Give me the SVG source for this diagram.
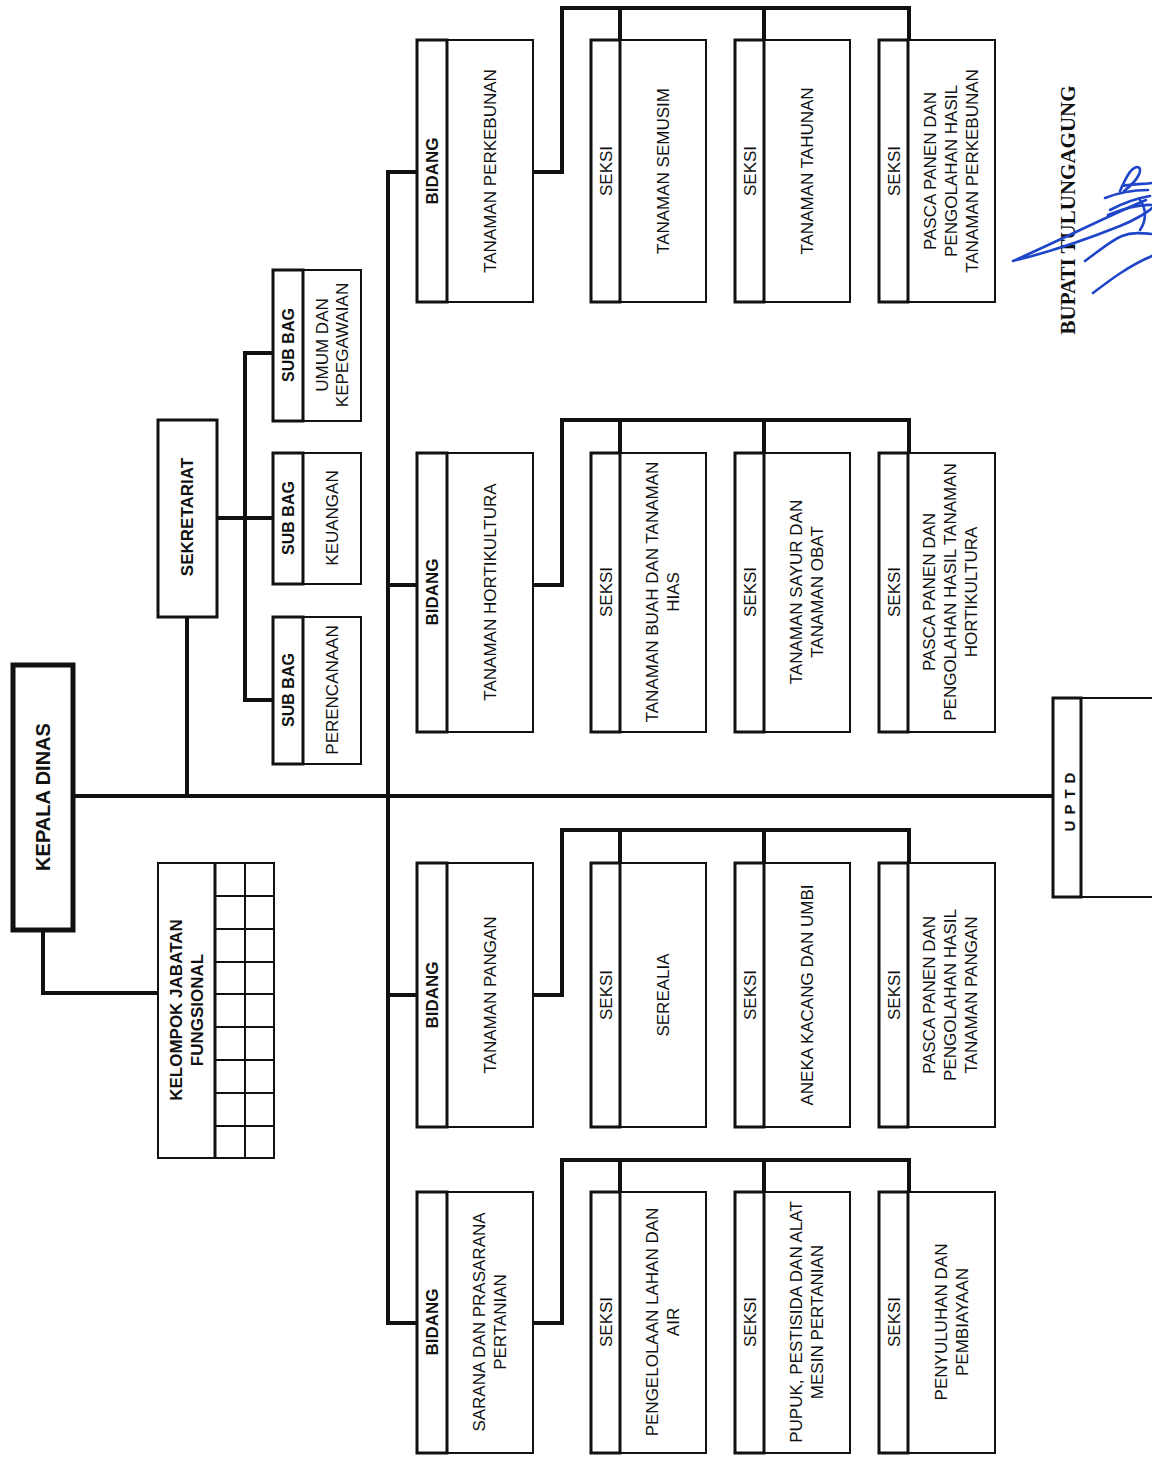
<svg xmlns="http://www.w3.org/2000/svg" width="1152" height="1462" viewBox="0 0 1152 1462">
<style>
.bx{fill:#fff;stroke:#111;stroke-width:2}
.hd{fill:none;stroke:#111;stroke-width:3}
.cn{fill:none;stroke:#111;stroke-width:4;stroke-linecap:square}
.t{font-family:"Liberation Sans",Arial,sans-serif;font-size:17px;fill:#111;text-anchor:middle}
.b{font-weight:bold}
.sig{fill:none;stroke:#1f45c8;stroke-width:2.6;stroke-linecap:round;stroke-linejoin:round}
</style>
<rect width="1152" height="1462" fill="#fff"/>

<g id="connectors">
<path class="cn" d="M73,796 H1053"/>
<path class="cn" d="M187,617 V796"/>
<path class="cn" d="M43,930 V993 H158"/>
<path class="cn" d="M217,518 H273 M245,353 V700 M245,353 H273 M245,700 H273"/>
<path class="cn" d="M388,172 V1323 M388,172 H417 M388,585 H417 M388,995 H417 M388,1323 H417"/>
<path class="cn" d="M533,172 H562 V8 H909 V40 M620,8 V40 M764,8 V40"/>
<path class="cn" d="M533,585 H562 V420 H909 V453 M620,420 V453 M764,420 V453"/>
<path class="cn" d="M533,995 H562 V830 H909 V863 M620,830 V863 M764,830 V863"/>
<path class="cn" d="M533,1323 H562 V1160 H909 V1192 M620,1160 V1192 M764,1160 V1192"/>
</g>

<g id="kepala-dinas">
<rect x="13" y="665" width="60" height="265" fill="#fff" stroke="#111" stroke-width="5"/>
<text class="t b" style="font-size:20px" transform="translate(43,797) rotate(-90)" y="7">KEPALA DINAS</text>
</g>

<g id="kelompok-jabatan-fungsional">
<rect class="bx" x="158" y="863" width="116" height="295"/>
<path fill="none" stroke="#111" stroke-width="3" d="M215,863 V1158"/>
<path fill="none" stroke="#111" stroke-width="2" d="M245,863 V1158 M215,896 H274 M215,929 H274 M215,962 H274 M215,994 H274 M215,1027 H274 M215,1060 H274 M215,1093 H274 M215,1126 H274"/>
<text class="t b" transform="translate(186,1010) rotate(-90)"><tspan x="0" y="-4.5">KELOMPOK JABATAN</tspan><tspan x="0" y="16.5">FUNGSIONAL</tspan></text>
</g>

<g id="sekretariat">
<rect x="158" y="420" width="59" height="197" fill="#fff" stroke="#111" stroke-width="3"/>
<text class="t b" transform="translate(187,517) rotate(-90)" y="6">SEKRETARIAT</text>
</g>

<g id="subbag-umum">
<rect class="bx" x="273" y="270" width="88" height="151"/>
<rect class="hd" x="273" y="270" width="30" height="151"/>
<text class="t b" style="font-size:16px" transform="translate(288,345) rotate(-90)" y="6">SUB BAG</text>
<text class="t" transform="translate(332,345) rotate(-90)"><tspan x="0" y="-4">UMUM DAN</tspan><tspan x="0" y="16">KEPEGAWAIAN</tspan></text>
</g>
<g id="subbag-keuangan">
<rect class="bx" x="273" y="453" width="88" height="131"/>
<rect class="hd" x="273" y="453" width="30" height="131"/>
<text class="t b" style="font-size:16px" transform="translate(288,518) rotate(-90)" y="6">SUB BAG</text>
<text class="t" transform="translate(332,518) rotate(-90)" y="6">KEUANGAN</text>
</g>
<g id="subbag-perencanaan">
<rect class="bx" x="273" y="617" width="88" height="147"/>
<rect class="hd" x="273" y="617" width="30" height="147"/>
<text class="t b" style="font-size:16px" transform="translate(288,690) rotate(-90)" y="6">SUB BAG</text>
<text class="t" transform="translate(332,690) rotate(-90)" y="6">PERENCANAAN</text>
</g>

<!-- Row 1: Perkebunan -->
<g id="bidang-perkebunan">
<rect class="bx" x="417" y="40" width="116" height="262"/>
<rect class="hd" x="417" y="40" width="30" height="262"/>
<text class="t b" transform="translate(432,171) rotate(-90)" y="6">BIDANG</text>
<text class="t" transform="translate(490,171) rotate(-90)" y="6">TANAMAN PERKEBUNAN</text>
</g>
<g id="seksi-semusim">
<rect class="bx" x="591" y="40" width="115" height="262"/>
<rect class="hd" x="591" y="40" width="29" height="262"/>
<text class="t" transform="translate(605.5,171) rotate(-90)" y="6">SEKSI</text>
<text class="t" transform="translate(663,171) rotate(-90)" y="6">TANAMAN SEMUSIM</text>
</g>
<g id="seksi-tahunan">
<rect class="bx" x="735" y="40" width="115" height="262"/>
<rect class="hd" x="735" y="40" width="29" height="262"/>
<text class="t" transform="translate(749.5,171) rotate(-90)" y="6">SEKSI</text>
<text class="t" transform="translate(807,171) rotate(-90)" y="6">TANAMAN TAHUNAN</text>
</g>
<g id="seksi-pasca-perkebunan">
<rect class="bx" x="879" y="40" width="116" height="262"/>
<rect class="hd" x="879" y="40" width="29" height="262"/>
<text class="t" transform="translate(893.5,171) rotate(-90)" y="6">SEKSI</text>
<text class="t" transform="translate(951,171) rotate(-90)"><tspan x="0" y="-15">PASCA PANEN DAN</tspan><tspan x="0" y="6">PENGOLAHAN HASIL</tspan><tspan x="0" y="27">TANAMAN PERKEBUNAN</tspan></text>
</g>

<!-- Row 2: Hortikultura -->
<g id="bidang-hortikultura">
<rect class="bx" x="417" y="453" width="116" height="279"/>
<rect class="hd" x="417" y="453" width="30" height="279"/>
<text class="t b" transform="translate(432,592) rotate(-90)" y="6">BIDANG</text>
<text class="t" transform="translate(490,592) rotate(-90)" y="6">TANAMAN HORTIKULTURA</text>
</g>
<g id="seksi-buah">
<rect class="bx" x="591" y="453" width="115" height="279"/>
<rect class="hd" x="591" y="453" width="29" height="279"/>
<text class="t" transform="translate(605.5,592) rotate(-90)" y="6">SEKSI</text>
<text class="t" transform="translate(662,592) rotate(-90)"><tspan x="0" y="-4.5">TANAMAN BUAH DAN TANAMAN</tspan><tspan x="0" y="16.5">HIAS</tspan></text>
</g>
<g id="seksi-sayur">
<rect class="bx" x="735" y="453" width="115" height="279"/>
<rect class="hd" x="735" y="453" width="29" height="279"/>
<text class="t" transform="translate(749.5,592) rotate(-90)" y="6">SEKSI</text>
<text class="t" transform="translate(806,592) rotate(-90)"><tspan x="0" y="-4.5">TANAMAN SAYUR DAN</tspan><tspan x="0" y="16.5">TANAMAN OBAT</tspan></text>
</g>
<g id="seksi-pasca-hortikultura">
<rect class="bx" x="879" y="453" width="116" height="279"/>
<rect class="hd" x="879" y="453" width="29" height="279"/>
<text class="t" transform="translate(893.5,592) rotate(-90)" y="6">SEKSI</text>
<text class="t" transform="translate(950,592) rotate(-90)"><tspan x="0" y="-15">PASCA PANEN DAN</tspan><tspan x="0" y="6">PENGOLAHAN HASIL  TANAMAN</tspan><tspan x="0" y="27">HORTIKULTURA</tspan></text>
</g>

<!-- Row 3: Pangan -->
<g id="bidang-pangan">
<rect class="bx" x="417" y="863" width="116" height="264"/>
<rect class="hd" x="417" y="863" width="30" height="264"/>
<text class="t b" transform="translate(432,995) rotate(-90)" y="6">BIDANG</text>
<text class="t" transform="translate(490,995) rotate(-90)" y="6">TANAMAN PANGAN</text>
</g>
<g id="seksi-serealia">
<rect class="bx" x="591" y="863" width="115" height="264"/>
<rect class="hd" x="591" y="863" width="29" height="264"/>
<text class="t" transform="translate(605.5,995) rotate(-90)" y="6">SEKSI</text>
<text class="t" transform="translate(663,995) rotate(-90)" y="6">SEREALIA</text>
</g>
<g id="seksi-aneka-kacang">
<rect class="bx" x="735" y="863" width="115" height="264"/>
<rect class="hd" x="735" y="863" width="29" height="264"/>
<text class="t" transform="translate(749.5,995) rotate(-90)" y="6">SEKSI</text>
<text class="t" transform="translate(807,995) rotate(-90)" y="6">ANEKA KACANG DAN UMBI</text>
</g>
<g id="seksi-pasca-pangan">
<rect class="bx" x="879" y="863" width="116" height="264"/>
<rect class="hd" x="879" y="863" width="29" height="264"/>
<text class="t" transform="translate(893.5,995) rotate(-90)" y="6">SEKSI</text>
<text class="t" transform="translate(950,995) rotate(-90)"><tspan x="0" y="-15">PASCA PANEN DAN</tspan><tspan x="0" y="6">PENGOLAHAN HASIL</tspan><tspan x="0" y="27">TANAMAN PANGAN</tspan></text>
</g>

<!-- Row 4: Sarana -->
<g id="bidang-sarana">
<rect class="bx" x="417" y="1192" width="116" height="261"/>
<rect class="hd" x="417" y="1192" width="30" height="261"/>
<text class="t b" transform="translate(432,1322) rotate(-90)" y="6">BIDANG</text>
<text class="t" transform="translate(489,1322) rotate(-90)"><tspan x="0" y="-4.5">SARANA DAN PRASARANA</tspan><tspan x="0" y="16.5">PERTANIAN</tspan></text>
</g>
<g id="seksi-lahan">
<rect class="bx" x="591" y="1192" width="115" height="261"/>
<rect class="hd" x="591" y="1192" width="29" height="261"/>
<text class="t" transform="translate(605.5,1322) rotate(-90)" y="6">SEKSI</text>
<text class="t" transform="translate(662,1322) rotate(-90)"><tspan x="0" y="-4.5">PENGELOLAAN LAHAN DAN</tspan><tspan x="0" y="16.5">AIR</tspan></text>
</g>
<g id="seksi-pupuk">
<rect class="bx" x="735" y="1192" width="115" height="261"/>
<rect class="hd" x="735" y="1192" width="29" height="261"/>
<text class="t" transform="translate(749.5,1322) rotate(-90)" y="6">SEKSI</text>
<text class="t" transform="translate(806,1322) rotate(-90)"><tspan x="0" y="-4.5">PUPUK, PESTISIDA DAN ALAT</tspan><tspan x="0" y="16.5">MESIN PERTANIAN</tspan></text>
</g>
<g id="seksi-penyuluhan">
<rect class="bx" x="879" y="1192" width="116" height="261"/>
<rect class="hd" x="879" y="1192" width="29" height="261"/>
<text class="t" transform="translate(893.5,1322) rotate(-90)" y="6">SEKSI</text>
<text class="t" transform="translate(951,1322) rotate(-90)"><tspan x="0" y="-4.5">PENYULUHAN DAN</tspan><tspan x="0" y="16.5">PEMBIAYAAN</tspan></text>
</g>

<g id="uptd">
<rect class="bx" x="1053" y="698" width="110" height="199"/>
<rect class="hd" x="1053" y="698" width="28" height="199"/>
<text class="t b" style="font-size:15px;letter-spacing:6px" transform="translate(1070,799) rotate(-90)" y="5">UPTD</text>
</g>

<g id="signature">
<text transform="translate(1068,210) rotate(-90)" y="7" style="font-family:'Liberation Serif','Times New Roman',serif;font-size:21px;font-weight:bold;fill:#111;text-anchor:middle">BUPATI TULUNGAGUNG</text>
<path class="sig" d="M1146,200 C1110,215 1050,245 1013,261 C1050,252 1090,238 1120,226 C1135,220 1148,212 1152,208"/>
<path class="sig" d="M1105,198 C1120,192 1135,190 1148,190"/>
<path class="sig" d="M1120,191 C1125,180 1130,168 1137,167 C1143,167 1141,178 1124,191"/>
<path class="sig" d="M1122,186 C1132,184 1145,184 1152,183"/>
<path class="sig" d="M1110,210 C1125,202 1138,198 1150,196 M1108,215 C1125,208 1140,204 1152,205"/>
<path class="sig" d="M1140,200 C1146,208 1147,220 1140,230"/>
<path class="sig" d="M1085,261 C1100,250 1112,240 1122,236 C1132,232 1142,233 1152,234"/>
<path class="sig" d="M1093,293 C1110,280 1130,265 1152,256"/>
</g>
</svg>
